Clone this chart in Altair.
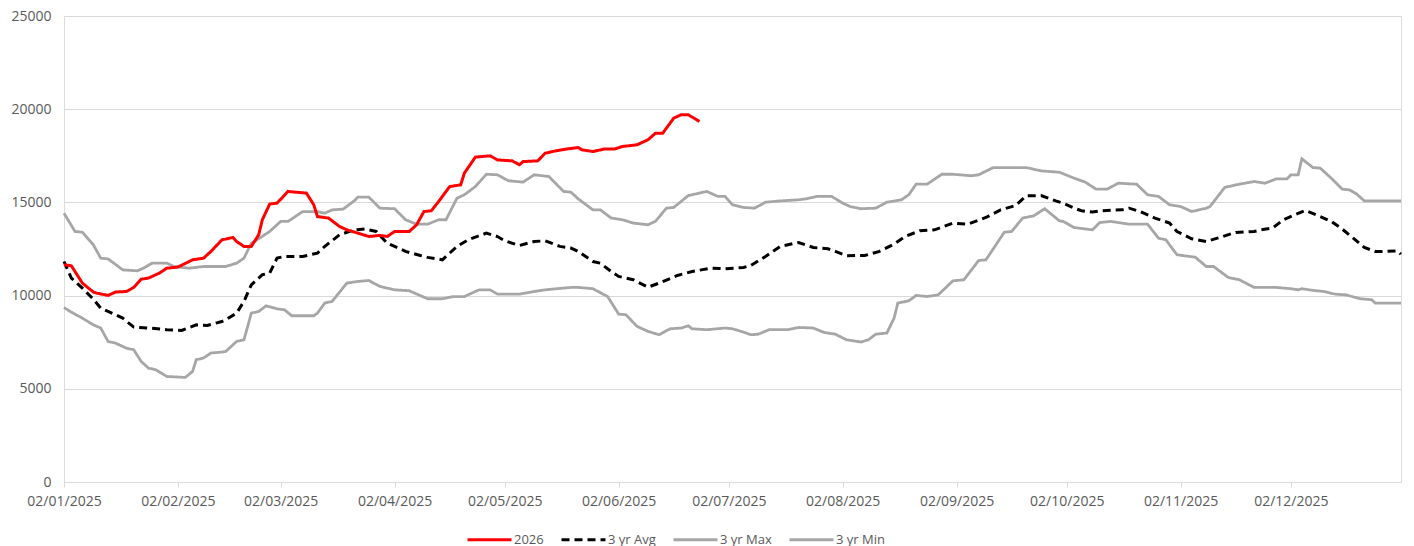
import altair as alt
import pandas as pd

# Day offsets counted from 2 Jan 2025, with values
y2026_days = [0, 2, 5, 8, 9, 12, 14, 17, 19, 21, 23, 26, 28, 31, 35, 38, 40, 43, 46, 47,
              49, 51, 53, 54, 56, 58, 61, 63, 66, 68, 69, 72, 75, 77, 80, 83, 86, 88, 90, 94,
              96, 98, 100, 102, 105, 108, 109, 112, 116, 118, 122, 124, 125, 129, 131, 134,
              137, 140, 141, 144, 147, 150, 152, 156, 159, 161, 163, 166, 168, 170, 173]
y2026_vals = [11650, 11600, 10670, 10190, 10130, 10010, 10190, 10220, 10440, 10880, 10940,
              11210, 11470, 11530, 11920, 12010, 12370, 12990, 13120, 12900, 12640, 12640,
              13260, 14070, 14910, 14960, 15590, 15550, 15500, 14870, 14240, 14160, 13710,
              13530, 13350, 13170, 13230, 13170, 13440, 13440, 13800, 14510, 14550, 15050,
              15850, 15940, 16570, 17430, 17500, 17280, 17230, 17020, 17190, 17230, 17640,
              17770, 17870, 17940, 17820, 17730, 17860, 17870, 18000, 18090, 18360, 18710,
              18710, 19520, 19700, 19700, 19340]

avg_days = [0, 2, 5, 8, 10, 12, 16, 19, 23, 28, 32, 36, 39, 43, 44, 47, 49, 51, 54, 56, 58,
            60, 65, 69, 71, 75, 79, 82, 85, 88, 90, 93, 97, 99, 103, 107, 110, 115, 118, 120,
            124, 128, 131, 135, 138, 140, 144, 146, 149, 151, 155, 159, 162, 167, 171, 176,
            180, 185, 187, 191, 195, 200, 204, 208, 210, 213, 218, 222, 226, 229, 233, 237,
            242, 246, 251, 255, 259, 262, 266, 270, 272, 275, 277, 280, 282, 288, 290, 293,
            297, 301, 303, 307, 311, 314, 319, 324, 326, 329, 332, 335, 338, 342, 345, 348,
            351, 354, 357, 360, 363, 364]
avg_vals = [11830, 10940, 10400, 9800, 9330, 9150, 8790, 8310, 8260, 8170, 8130, 8430, 8400,
            8610, 8700, 9060, 9690, 10580, 11120, 11210, 12010, 12100, 12100, 12280, 12640,
            13260, 13530, 13570, 13440, 12810, 12640, 12370, 12150, 12050, 11920, 12640,
            12990, 13350, 13170, 12940, 12690, 12900, 12940, 12640, 12550, 12370, 11830,
            11740, 11290, 11030, 10850, 10450, 10670, 11080, 11290, 11470, 11440, 11510,
            11620, 12100, 12640, 12850, 12580, 12510, 12370, 12140, 12150, 12370, 12760,
            13170, 13480, 13530, 13890, 13830, 14190, 14600, 14830, 15350, 15370, 15080,
            14960, 14690, 14550, 14480, 14550, 14600, 14690, 14510, 14160, 13890, 13440,
            13050, 12900, 13080, 13390, 13440, 13530, 13620, 14070, 14330, 14570, 14240,
            13980, 13570, 13080, 12580, 12370, 12370, 12400, 12220]

max_days = [0, 3, 5, 8, 10, 12, 16, 20, 22, 24, 28, 30, 34, 38, 44, 47, 49, 51, 53, 56, 59,
            61, 65, 69, 71, 73, 76, 79, 80, 83, 86, 90, 93, 96, 99, 102, 104, 107, 109, 112,
            115, 118, 121, 125, 128, 132, 136, 138, 140, 144, 146, 149, 152, 155, 159, 161,
            164, 166, 170, 171, 175, 178, 180, 182, 185, 188, 191, 195, 200, 202, 205, 209,
            212, 214, 217, 221, 224, 228, 230, 232, 235, 239, 242, 247, 249, 253, 257, 262,
            266, 271, 275, 278, 281, 284, 287, 292, 295, 298, 301, 304, 307, 311, 312, 316,
            319, 324, 327, 330, 333, 334, 336, 337, 340, 342, 345, 348, 350, 352, 354, 364]
max_vals = [14420, 13440, 13400, 12720, 12010, 11970, 11380, 11330, 11510, 11740, 11740,
            11560, 11470, 11560, 11560, 11740, 12010, 12810, 13050, 13440, 13980, 13980,
            14510, 14510, 14420, 14600, 14640, 15080, 15280, 15280, 14690, 14660, 14070,
            13830, 13830, 14070, 14070, 15230, 15410, 15850, 16510, 16480, 16160, 16090,
            16480, 16390, 15590, 15550, 15190, 14600, 14600, 14160, 14070, 13890, 13800,
            13980, 14690, 14730, 15370, 15410, 15590, 15320, 15320, 14870, 14730, 14690,
            15010, 15080, 15140, 15190, 15320, 15320, 14960, 14780, 14660, 14690, 15010,
            15140, 15410, 15980, 15980, 16510, 16510, 16430, 16480, 16870, 16870, 16870,
            16690, 16620, 16300, 16090, 15710, 15710, 16030, 15980, 15410, 15320, 14870,
            14780, 14510, 14690, 14780, 15800, 15940, 16120, 16030, 16260, 16260, 16480,
            16480, 17340, 16870, 16840, 16300, 15710, 15670, 15440, 15080, 15080]

min_days = [0, 2, 5, 8, 10, 12, 14, 17, 19, 21, 23, 25, 28, 33, 35, 36, 38, 40, 43, 44, 47,
            49, 51, 53, 55, 58, 60, 62, 68, 69, 71, 73, 77, 80, 83, 86, 90, 94, 99, 103, 106,
            109, 113, 116, 118, 124, 128, 131, 138, 140, 144, 148, 151, 153, 156, 159, 162,
            165, 168, 170, 171, 175, 180, 182, 185, 187, 189, 192, 197, 200, 204, 207, 210,
            213, 217, 219, 221, 224, 226, 227, 230, 232, 235, 238, 242, 245, 249, 251, 256,
            258, 261, 264, 267, 271, 272, 275, 280, 282, 285, 290, 295, 298, 300, 303, 308,
            311, 313, 317, 320, 324, 330, 334, 336, 337, 340, 343, 346, 349, 353, 356, 357, 364]
min_vals = [9360, 9110, 8790, 8430, 8260, 7540, 7450, 7180, 7090, 6470, 6110, 6020, 5660,
            5610, 5930, 6560, 6650, 6920, 6970, 7000, 7540, 7630, 9060, 9150, 9450, 9290,
            9240, 8920, 8920, 9060, 9600, 9690, 10670, 10760, 10810, 10490, 10310, 10260,
            9830, 9830, 9950, 9950, 10310, 10310, 10080, 10080, 10220, 10310, 10440, 10440,
            10370, 9950, 9010, 8970, 8350, 8080, 7900, 8220, 8260, 8380, 8220, 8170, 8260,
            8220, 8040, 7900, 7930, 8170, 8170, 8290, 8260, 8020, 7930, 7630, 7510, 7630,
            7930, 7990, 8790, 9600, 9720, 10010, 9950, 10040, 10790, 10850, 11880, 11920,
            13400, 13440, 14160, 14280, 14660, 14010, 13980, 13650, 13530, 13920, 13980,
            13830, 13830, 13080, 12990, 12190, 12060, 11560, 11560, 10970, 10850, 10440,
            10440, 10370, 10310, 10370, 10280, 10220, 10080, 10040, 9830, 9780, 9600, 9600]

series_names = ["2026", "3 yr Avg", "3 yr Max", "3 yr Min"]
series_colors = ["#FF0000", "#000000", "#A6A6A6", "#A6A6A6"]
series_dashes = [[1, 0], [8, 5], [1, 0], [1, 0]]
y_ticks = [0, 5000, 10000, 15000, 20000, 25000]

START = pd.Timestamp("2025-01-02")


def frame(name, days, vals):
    return pd.DataFrame({
        "date": [(START + pd.Timedelta(days=d)).strftime("%Y-%m-%d") for d in days],
        "value": vals,
        "series": name,
    })


df_2026 = frame("2026", y2026_days, y2026_vals)
df_avg = frame("3 yr Avg", avg_days, avg_vals)
df_max = frame("3 yr Max", max_days, max_vals)
df_min = frame("3 yr Min", min_days, min_vals)

legend = alt.Legend(
    title=None, orient="none", legendX=402, legendY=500, direction="horizontal",
    columns=4, symbolType="stroke", symbolSize=1936, symbolStrokeWidth=3,
    labelFontSize=13, labelColor="#595959", labelOffset=1, columnPadding=11,
    padding=0, labelFont="Open Sans",
)

x_enc = alt.X(
    "date:T",
    scale=alt.Scale(type="utc", domain=[alt.DateTime(year=2025, month=1, date=2, utc=True),
                                        alt.DateTime(year=2026, month=1, date=1, utc=True)]),
    axis=alt.Axis(
        values=[alt.DateTime(year=2025, month=m, date=2, utc=True) for m in range(1, 13)],
        format="%d/%m/%Y", title=None, grid=False, domainColor="#D9D9D9",
        tickColor="#D9D9D9", tickSize=5, labelPadding=7, labelFontSize=14,
        labelColor="#595959", labelFlush=False, labelOverlap=False, labelFont="Open Sans",
    ),
)
y_enc = alt.Y(
    "value:Q",
    scale=alt.Scale(domain=[0, 25000], nice=False),
    axis=alt.Axis(
        values=y_ticks, format="d", title=None, domain=False, ticks=False,
        labelPadding=13, gridColor="#D9D9D9", labelFontSize=14, labelColor="#595959",
        labelFont="Open Sans",
    ),
)
color_enc = alt.Color("series:N", scale=alt.Scale(domain=series_names, range=series_colors),
                      legend=legend)
dash_enc = alt.StrokeDash("series:N", scale=alt.Scale(domain=series_names, range=series_dashes),
                          legend=legend)


def layer(df, width):
    return alt.Chart(df).mark_line(strokeWidth=width).encode(
        x=x_enc, y=y_enc, color=color_enc, strokeDash=dash_enc
    )


chart = alt.layer(
    layer(df_max, 2.8),
    layer(df_min, 2.8),
    layer(df_avg, 3),
    layer(df_2026, 3),
).properties(
    width=1337, height=466,
    autosize=alt.AutoSizeParams(type="none"),
    padding={"left": 56, "top": 8, "right": 5, "bottom": 90},
).configure_view(stroke=None).configure(font="Open Sans")

chart.save("out.html", embed_options={"renderer": "svg", "actions": False})
